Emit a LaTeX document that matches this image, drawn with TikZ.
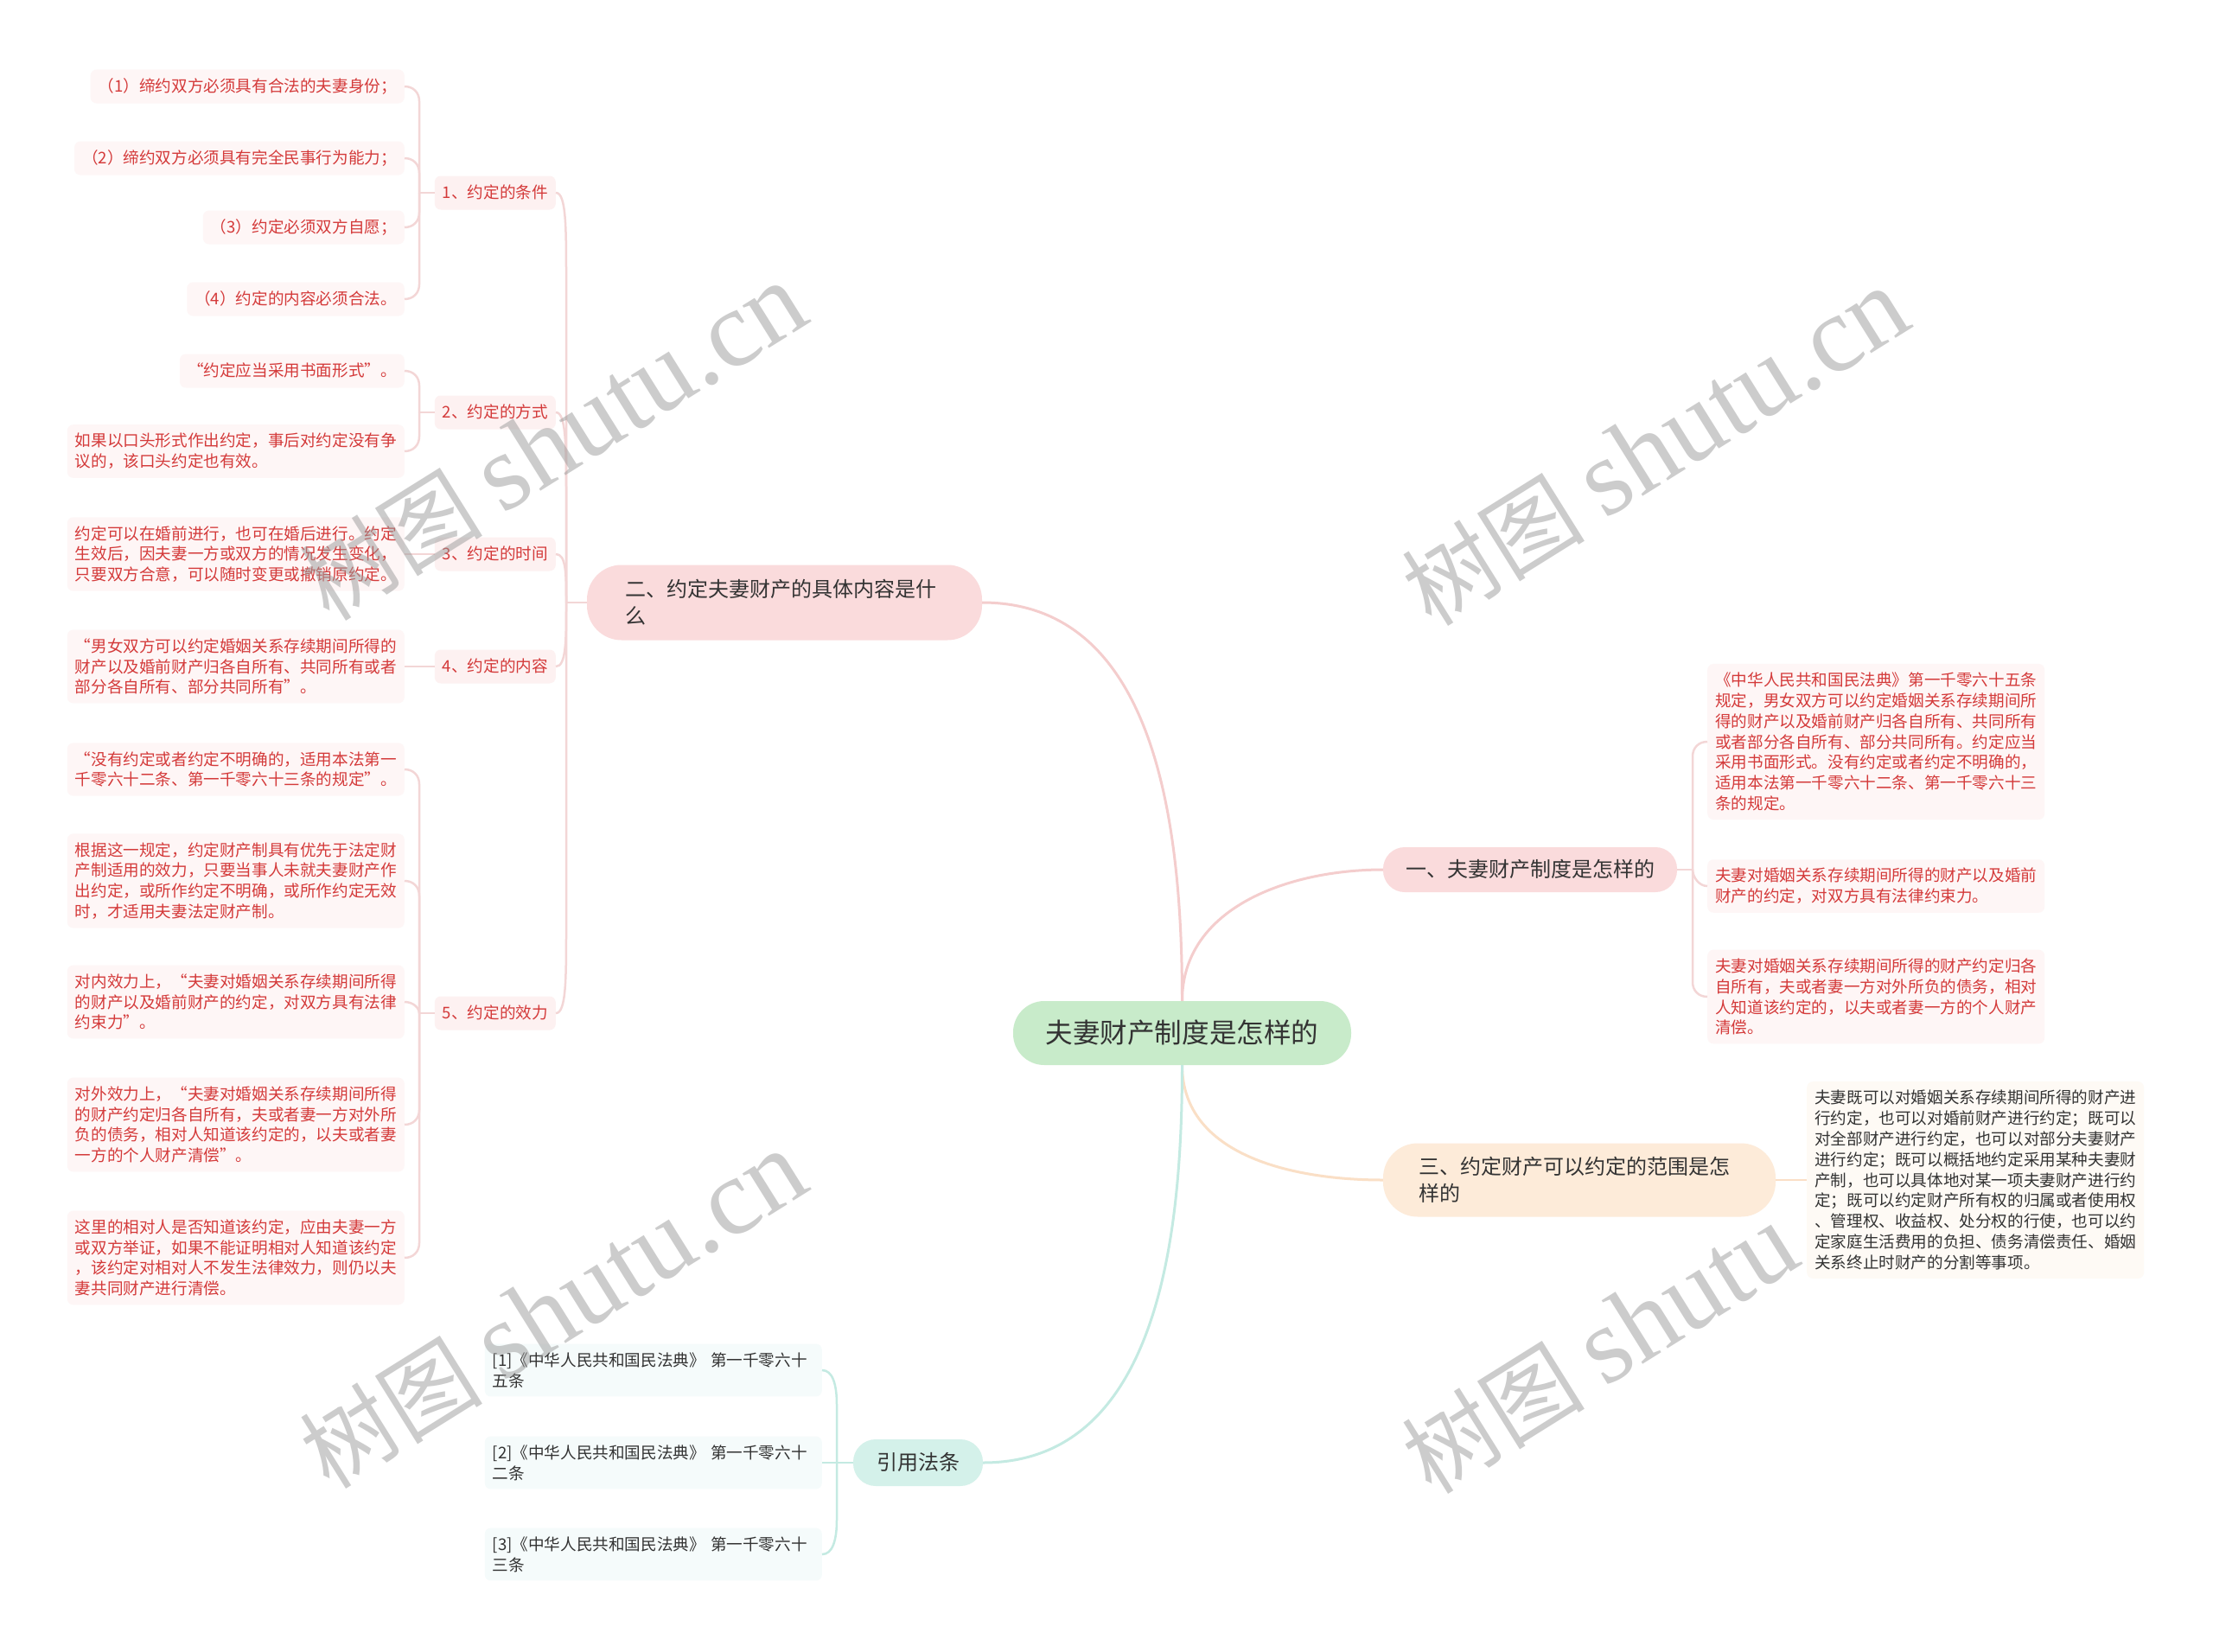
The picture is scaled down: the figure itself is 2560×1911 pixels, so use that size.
\documentclass[tikz,border=0pt]{standalone}
\usepackage{fontspec}
\newfontfamily\cjk{Noto Sans CJK SC}
\newfontfamily\wmserif{Liberation Serif}
\definecolor{cenfill}{HTML}{C8EBCA}
\definecolor{redfill}{HTML}{FADBDC}
\definecolor{peachfill}{HTML}{FDEBD9}
\definecolor{tealfill}{HTML}{D4F1EA}
\definecolor{subfill}{HTML}{FDF1F1}
\definecolor{leaffill}{HTML}{FEF6F6}
\definecolor{peachleaf}{HTML}{FEFAF5}
\definecolor{tealleaf}{HTML}{F5FBFB}
\definecolor{txtdark}{HTML}{333333}
\definecolor{txtred}{HTML}{D43A3A}
\definecolor{linepink}{HTML}{F4CDCD}
\definecolor{linebus}{HTML}{F3D6D6}
\definecolor{linepeach}{HTML}{FADFC6}
\definecolor{lineteal}{HTML}{C4EAE2}
\definecolor{wmgray}{HTML}{9A9A9A}
\newcommand{\wmtext}{{\cjk\fontsize{106}{116}\selectfont 树图}\hspace{24pt}{\wmserif\fontsize{126}{130}\selectfont shutu.cn}}
\tikzset{
  smallfont/.style={font=\cjk\fontsize{18.6}{23.8}\selectfont},
  pillbase/.style={text=txtdark, inner ysep=0pt, font=\cjk\fontsize{24}{31}\selectfont},
  pillone/.style={pillbase, text height=20.5pt, text depth=3.5pt},
  subbox/.style={smallfont, fill=subfill, text=txtred, rounded corners=7pt, inner xsep=9pt, inner ysep=10pt, text height=16pt, text depth=3pt, anchor=east},
  leafbase/.style={smallfont, rounded corners=7pt, inner xsep=9pt, inner ysep=10pt},
  leafr/.style={leafbase, fill=leaffill, text=txtred},
  onel/.style={text height=16pt, text depth=3pt},
  multi/.style={text width=372pt, align=left},
  mainline/.style={line width=3pt},
  busline/.style={line width=2.5pt},
  wm/.style={text=wmgray, text opacity=0.5, rotate=32, inner sep=0pt}
}
\begin{document}
\begin{tikzpicture}[x=1pt,y=1pt]
\fill[white] (0,0) rectangle (2560,-1911);
\useasboundingbox (0,0) rectangle (2560,-1911);

% watermark partly hidden by the box of 三
\node[wm] (wm4) at (1915,-1522) {\wmtext};

% ---------- main nodes
\node[pillone, fill=cenfill, rounded corners=36pt, minimum height=74pt, inner xsep=37.5pt,
      font=\cjk\fontsize{31.6}{38}\selectfont, text height=27pt, text depth=4.6pt] (cen) at (1367.5,-1195) {夫妻财产制度是怎样的};
\node[pillbase, fill=redfill, rounded corners=40pt, minimum height=87pt, text width=369pt, align=left, inner xsep=44pt] (er) at (907.5,-697) {二、约定夫妻财产的具体内容是什\\么};
\node[pillone, fill=redfill, rounded corners=25pt, minimum height=52pt, inner xsep=26pt] (yi) at (1770,-1006) {一、夫妻财产制度是怎样的};
\node[pillbase, fill=peachfill, rounded corners=40pt, minimum height=85pt, text width=372pt, align=left, inner xsep=41pt] (san) at (1827,-1365) {三、约定财产可以约定的范围是怎\\样的};
\node[pillone, fill=tealfill, rounded corners=26pt, minimum height=54pt, inner xsep=27pt] (yin) at (1062,-1692) {引用法条};

% ---------- level 2 (under 二)
\node[subbox] (c1) at (643,-223) {1、约定的条件};
\node[subbox] (c2) at (643,-477) {2、约定的方式};
\node[subbox] (c3) at (643,-641) {3、约定的时间};
\node[subbox] (c4) at (643,-771) {4、约定的内容};
\node[subbox] (c5) at (643,-1172) {5、约定的效力};

% ---------- leaves of 1
\node[leafr, onel, anchor=east] (la) at (468,-100) {（1）缔约双方必须具有合法的夫妻身份；};
\node[leafr, onel, anchor=east] (lb) at (468,-183) {（2）缔约双方必须具有完全民事行为能力；};
\node[leafr, onel, anchor=east] (lc) at (468,-263) {（3）约定必须双方自愿；};
\node[leafr, onel, anchor=east] (ld) at (468,-346) {（4）约定的内容必须合法。};
% leaves of 2
\node[leafr, onel, anchor=east] (ma) at (468,-429) {“约定应当采用书面形式”。};
\node[leafr, multi, anchor=east] (mb) at (468,-522) {如果以口头形式作出约定，事后对约定没有争\\议的，该口头约定也有效。};
% leaf of 3
\node[leafr, multi, anchor=east] (na) at (468,-641) {约定可以在婚前进行，也可在婚后进行。约定\\生效后，因夫妻一方或双方的情况发生变化，\\只要双方合意，可以随时变更或撤销原约定。};
% leaf of 4
\node[leafr, multi, anchor=east] (oa) at (468,-771) {“男女双方可以约定婚姻关系存续期间所得的\\财产以及婚前财产归各自所有、共同所有或者\\部分各自所有、部分共同所有”。};
% leaves of 5
\node[leafr, multi, anchor=east] (pa) at (468,-890) {“没有约定或者约定不明确的，适用本法第一\\千零六十二条、第一千零六十三条的规定”。};
\node[leafr, multi, anchor=east] (pb) at (468,-1019) {根据这一规定，约定财产制具有优先于法定财\\产制适用的效力，只要当事人未就夫妻财产作\\出约定，或所作约定不明确，或所作约定无效\\时，才适用夫妻法定财产制。};
\node[leafr, multi, anchor=east] (pc) at (468,-1159) {对内效力上，“夫妻对婚姻关系存续期间所得\\的财产以及婚前财产的约定，对双方具有法律\\约束力”。};
\node[leafr, multi, anchor=east] (pd) at (468,-1301) {对外效力上，“夫妻对婚姻关系存续期间所得\\的财产约定归各自所有，夫或者妻一方对外所\\负的债务，相对人知道该约定的，以夫或者妻\\一方的个人财产清偿”。};
\node[leafr, multi, anchor=east] (pe) at (468,-1455) {这里的相对人是否知道该约定，应由夫妻一方\\或双方举证，如果不能证明相对人知道该约定\\，该约定对相对人不发生法律效力，则仍以夫\\妻共同财产进行清偿。};

% ---------- leaves of 一
\node[leafr, multi, anchor=west] (ya) at (1975,-858) {《中华人民共和国民法典》第一千零六十五条\\规定，男女双方可以约定婚姻关系存续期间所\\得的财产以及婚前财产归各自所有、共同所有\\或者部分各自所有、部分共同所有。约定应当\\采用书面形式。没有约定或者约定不明确的，\\适用本法第一千零六十二条、第一千零六十三\\条的规定。};
\node[leafr, multi, anchor=west] (yb) at (1975,-1025) {夫妻对婚姻关系存续期间所得的财产以及婚前\\财产的约定，对双方具有法律约束力。};
\node[leafr, multi, anchor=west] (yc) at (1975,-1153) {夫妻对婚姻关系存续期间所得的财产约定归各\\自所有，夫或者妻一方对外所负的债务，相对\\人知道该约定的，以夫或者妻一方的个人财产\\清偿。};

% ---------- leaf of 三
\node[leafbase, multi, fill=peachleaf, text=txtdark, anchor=west] (sa) at (2090,-1365) {夫妻既可以对婚姻关系存续期间所得的财产进\\行约定，也可以对婚前财产进行约定；既可以\\对全部财产进行约定，也可以对部分夫妻财产\\进行约定；既可以概括地约定采用某种夫妻财\\产制，也可以具体地对某一项夫妻财产进行约\\定；既可以约定财产所有权的归属或者使用权\\、管理权、收益权、处分权的行使，也可以约\\定家庭生活费用的负担、债务清偿责任、婚姻\\关系终止时财产的分割等事项。};

% ---------- leaves of 引用法条
\node[leafbase, multi, fill=tealleaf, text=txtdark, anchor=east] (r1) at (951,-1585) {[1]《中华人民共和国民法典》~第一千零六十\\五条};
\node[leafbase, multi, fill=tealleaf, text=txtdark, anchor=east] (r2) at (951,-1692) {[2]《中华人民共和国民法典》~第一千零六十\\二条};
\node[leafbase, multi, fill=tealleaf, text=txtdark, anchor=east] (r3) at (951,-1798) {[3]《中华人民共和国民法典》~第一千零六十\\三条};

% ---------- center connectors
\draw[mainline, linepink] (er.east) to[out=0,in=90] (cen.north);
\draw[mainline, linepink] (cen.north) to[out=90,in=180] (yi.west);
\draw[mainline, linepeach] (cen.south) to[out=-90,in=180] (san.west);
\draw[mainline, lineteal] (cen.south) to[out=-90,in=0] (yin.east);

% ---------- 二 bus
\begin{scope}[busline, linebus]
\draw (er.west) -- (655,-697);
\draw (c1.east) .. controls +(12,0) and +(0,60) .. (655,-323) -- (655,-697);
\draw (c2.east) .. controls +(12,0) and +(0,60) .. (655,-577) -- (655,-697);
\draw (c3.east) .. controls +(12,0) and +(0,33) .. (655,-697);
\draw (c4.east) .. controls +(12,0) and +(0,-44) .. (655,-697);
\draw (c5.east) .. controls +(12,0) and +(0,-60) .. (655,-1072) -- (655,-697);
% leaves of 1
\draw (c1.west) -- (485,-223);
\draw (la.east) .. controls +(10,0) and +(0,10) .. (485,-117) -- (485,-223);
\draw (lb.east) .. controls +(10,0) and +(0,10) .. (485,-200) -- (485,-223);
\draw (lc.east) .. controls +(10,0) and +(0,-10) .. (485,-246) -- (485,-223);
\draw (ld.east) .. controls +(10,0) and +(0,-10) .. (485,-329) -- (485,-223);
% leaves of 2
\draw (c2.west) -- (485,-477);
\draw (ma.east) .. controls +(10,0) and +(0,10) .. (485,-446) -- (485,-477);
\draw (mb.east) .. controls +(10,0) and +(0,-10) .. (485,-505) -- (485,-477);
% leaves of 3 and 4
\draw (c3.west) -- (na.east);
\draw (c4.west) -- (oa.east);
% leaves of 5
\draw (c5.west) -- (485,-1172);
\draw (pa.east) .. controls +(10,0) and +(0,10) .. (485,-907) -- (485,-1172);
\draw (pb.east) .. controls +(10,0) and +(0,10) .. (485,-1036) -- (485,-1172);
\draw (pc.east) .. controls +(10,0) and +(0,6) .. (485,-1172);
\draw (pd.east) .. controls +(10,0) and +(0,-10) .. (485,-1284) -- (485,-1172);
\draw (pe.east) .. controls +(10,0) and +(0,-10) .. (485,-1438) -- (485,-1172);
% 一 bus
\draw (yi.east) -- (1958,-1006);
\draw (ya.west) .. controls +(-10,0) and +(0,10) .. (1958,-875) -- (1958,-1006);
\draw (yb.west) .. controls +(-10,0) and +(0,-8) .. (1958,-1006);
\draw (yc.west) .. controls +(-10,0) and +(0,-10) .. (1958,-1136) -- (1958,-1006);
\end{scope}

% 三
\draw[busline, linepeach] (san.east) -- (sa.west);

% 引用 bus
\begin{scope}[busline, lineteal]
\draw (yin.west) -- (968,-1692);
\draw (r1.east) .. controls +(12,0) and +(0,24) .. (968,-1625) -- (968,-1692);
\draw (r2.east) -- (yin.west);
\draw (r3.east) .. controls +(12,0) and +(0,-24) .. (968,-1758) -- (968,-1692);
\end{scope}

% ---------- watermarks
\node[wm] (wm1) at (640,-512) {\wmtext};
\node[wm] (wm2) at (1915,-518) {\wmtext};
\node[wm] (wm3) at (640,-1516) {\wmtext};
\end{tikzpicture}
\end{document}
